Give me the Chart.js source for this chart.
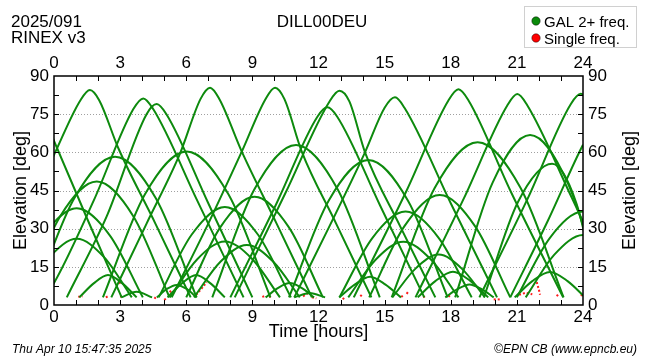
<!DOCTYPE html>
<html lang="en">
<head>
<meta charset="UTF-8">
<title>DILL00DEU elevation</title>
<script src="https://cdn.jsdelivr.net/npm/chart.js"></script>
<style>
  html, body { margin: 0; padding: 0; background: #fff; }
  #wrap { width: 650px; height: 360px; }
</style>
</head>
<body>
<div id="wrap"><canvas id="elevChart" width="650" height="360"></canvas></div>
<script>
  // hour ticks and elevation ticks
  const hourTicks = [0, 3, 6, 9, 12, 15, 18, 21, 24];
  const elevTicks = [0, 15, 30, 45, 60, 75, 90];

  // satellite passes, [hour, elevation] (dual frequency)
  const galPasses = [
    [[-1.3, 85], [-0.85, 81], [0, 64.5], [1.5, 34], [3.07, 3]],
    [[-3.1, 3], [-1.5, 31], [0, 59], [1.2, 80.5], [1.63, 84.5], [2.05, 80.5], [2.92, 61.6], [4.6, 32], [6.2, 3]],
    [[-0.45, 3], [0, 8.6], [1.8, 41], [3.6, 77], [4.05, 81.2], [4.5, 77], [6.5, 41], [8.6, 3]],
    [[0.58, 3], [2.4, 35], [4.2, 75], [4.66, 79], [5.1, 75], [7.0, 40], [9.0, 3]],
    [[2.6, 3], [4.2, 32], [5.72, 59.6], [6.65, 81], [7.08, 85.4], [7.5, 81], [8.52, 60.3], [10.1, 32], [11.7, 3]],
    [[5.34, 3], [7.0, 32], [8.52, 60.3], [9.6, 81], [10.03, 85.4], [10.45, 81], [11.24, 60.3], [12.8, 32], [14.4, 3]],
    [[8.0, 3], [10.1, 40], [11.95, 74], [12.4, 77.7], [12.85, 74], [14.8, 39], [16.8, 3]],
    [[8.2, 3], [10.5, 44], [12.5, 80], [12.95, 84.2], [13.4, 80], [14.11, 60], [15.7, 31], [17.3, 3]],
    [[10.9, 3], [12.5, 31], [14.11, 60], [15.0, 77.5], [15.47, 81.6], [15.9, 77.5], [18.0, 40], [20.1, 3]],
    [[13.6, 3], [16.0, 45], [17.9, 80.5], [18.35, 84.8], [18.8, 80.5], [20.7, 45], [23.1, 3]],
    [[16.4, 3], [18.6, 42], [20.57, 78.5], [21.02, 82.9], [21.47, 78.5], [23.5, 42], [25.6, 3]],
    [[19.3, 3], [21.5, 42], [23.45, 79], [23.9, 83], [24.35, 79], [26, 50]],
    [[20.7, 3], [22.4, 33], [24, 63], [25, 78]],
    // lower passes
    [[-1.36, 3], [0.29, 35], [1.94, 48.5], [3.59, 35], [5.24, 3]],
    [[-1.97, 3], [-0.47, 27.4], [1.03, 38], [2.53, 27.4], [4.03, 3]],
    [[-1.47, 3], [-0.22, 18.7], [1.03, 26], [2.28, 18.7], [3.53, 3]],
    [[1.15, 3], [1.8, 8.5], [2.45, 11.8], [3.1, 8.5], [3.75, 3]],
    [[-0.93, 3], [0.92, 42], [2.77, 58.3], [4.62, 42], [6.47, 3]],
    [[3.05, 3], [3.75, 5.2], [4.45, 3]],
    [[4.67, 3], [5.12, 6.3], [5.57, 7.9], [6.02, 6.3], [6.47, 3]],
    [[5.15, 3], [5.8, 8.5], [6.45, 11.8], [7.1, 8.5], [7.75, 3]],
    [[2.22, 3], [4.12, 43.4], [6.02, 60.3], [7.92, 43.4], [9.82, 3]],
    [[4.75, 3], [6.25, 27.7], [7.75, 38.5], [9.25, 27.7], [10.75, 3]],
    [[5.25, 3], [6.5, 18], [7.75, 25], [9.0, 18], [10.25, 3]],
    [[6.0, 3], [7.55, 30.6], [9.1, 42.5], [10.65, 30.6], [12.2, 3]],
    [[6.35, 3], [7.55, 17], [8.75, 23.6], [9.95, 17], [11.15, 3]],
    [[9.6, 3], [10.15, 6.6], [10.7, 8.6], [11.25, 6.6], [11.8, 3]],
    [[10.9, 3], [11.6, 4.7], [12.3, 3]],
    [[7.18, 3], [9.08, 45.3], [10.98, 62.9], [12.88, 45.3], [14.78, 3]],
    [[10.66, 3], [12.46, 41], [14.26, 57], [16.06, 41], [17.86, 3]],
    [[12.94, 3], [13.64, 8], [14.34, 11.1], [15.04, 8], [15.74, 3]],
    [[12.95, 3], [14.45, 26.4], [15.95, 36.7], [17.45, 26.4], [18.95, 3]],
    [[13.35, 3], [14.6, 17.9], [15.85, 24.9], [17.1, 17.9], [18.35, 3]],
    [[14.3, 3], [15.9, 31], [17.5, 43.2], [19.1, 31], [20.7, 3]],
    [[15.35, 3], [16.4, 14.3], [17.45, 19.8], [18.5, 14.3], [19.55, 3]],
    [[16.5, 3], [17.3, 9.4], [18.1, 13.1], [18.9, 9.4], [19.7, 3]],
    [[17.75, 3], [18.3, 6.2], [18.85, 8.1], [19.4, 6.2], [19.95, 3]],
    [[15.32, 3], [17.27, 46], [19.22, 64], [21.17, 46], [23.12, 3]],
    [[18.2, 3], [19.9, 48.1], [21.6, 66.8], [23.3, 48.1], [25.0, 3]],
    [[19.5, 3], [21.05, 40.5], [22.6, 55.5], [23.7, 40], [24.7, 3]],
    [[20.9, 3], [21.7, 9.4], [22.5, 13], [23.3, 9.4], [24.1, 3]],
    [[21.0, 3], [22.5, 26.4], [24, 36.7], [25.5, 26.4]],
    [[21.4, 3], [22.7, 19.8], [24, 27.5], [25.3, 19.8]]
  ];

  // short single-frequency pieces
  const singlePieces = [
    [[1.1, 3.2], [1.3, 3.4]],
    [[2.35, 3], [2.5, 3.6]],
    [[3.0, 3.2], [3.15, 3.6]],
    [[2.95, 8.5], [3.05, 9.2]],
    [[4.55, 3], [4.65, 2.4]],
    [[5.0, 2], [5.1, 2.6]],
    [[5.25, 5], [5.35, 6]],
    [[6.45, 4], [6.7, 6.5], [6.93, 9]],
    [[9.45, 3.2], [9.6, 3.6]],
    [[9.75, 3.2], [9.85, 3.4]],
    [[11.3, 3.4], [11.5, 4.5]],
    [[11.7, 3], [11.9, 2.6]],
    [[13.1, 2.2], [13.2, 3.2]],
    [[13.9, 3.4], [14.0, 4.4]],
    [[15.75, 3.2], [15.9, 4]],
    [[16.0, 4.4], [16.1, 5.6]],
    [[16.75, 3], [16.85, 3.6]],
    [[17.9, 3.2], [18.0, 4.2]],
    [[19.95, 2.2], [20.25, 2.2]],
    [[21.1, 4], [21.4, 4.8], [21.7, 4.2]],
    [[21.9, 9], [22.0, 6], [22.05, 4]],
    [[22.8, 4], [22.9, 3.4]],
    [[23.9, 3.6], [24, 4.4]]
  ];

  const GREEN = '#0d8a0d';
  const RED = '#ff1a1a';
  const FONT = "'Liberation Sans', Arial, sans-serif";

  function toPoints(p) {
    return p.map(([x, y]) => ({ x: x, y: y }));
  }

  const datasets = [];
  galPasses.forEach(p => {
    datasets.push({
      data: toPoints(p),
      borderColor: GREEN,
      borderWidth: 2,
      pointRadius: 0,
      showLine: true,
      cubicInterpolationMode: 'monotone',
      fill: false
    });
  });
  singlePieces.forEach(p => {
    datasets.push({
      data: toPoints(p),
      borderColor: RED,
      borderWidth: 2,
      borderDash: [2, 2],
      pointRadius: 0,
      showLine: true,
      fill: false
    });
  });

  // frame, dotted grid, inward ticks and the free texts
  const decor = {
    id: 'decor',
    beforeDatasetsDraw(chart) {
      const { ctx, chartArea: a } = chart;
      const ys = chart.scales.y;
      ctx.save();
      ctx.strokeStyle = '#a0a0a0';
      ctx.lineWidth = 1;
      ctx.setLineDash([1, 2]);
      elevTicks.forEach(v => {
        if (v === 0 || v === 90) return;
        const py = Math.round(ys.getPixelForValue(v)) + 0.5;
        ctx.beginPath();
        ctx.moveTo(a.left, py);
        ctx.lineTo(a.right, py);
        ctx.stroke();
      });
      ctx.restore();
    },
    afterDraw(chart) {
      const { ctx, chartArea: a } = chart;
      const xs = chart.scales.x;
      const ys = chart.scales.y;
      ctx.save();
      ctx.strokeStyle = '#000';
      ctx.lineWidth = 1.5;
      ctx.setLineDash([]);
      ctx.strokeRect(a.left, a.top, a.right - a.left, a.bottom - a.top);

      ctx.lineWidth = 1;
      ctx.beginPath();
      for (let h = 1; h < 24; h++) {
        const px = Math.round(xs.getPixelForValue(h)) + 0.5;
        ctx.moveTo(px, a.bottom); ctx.lineTo(px, a.bottom - 5);
        ctx.moveTo(px, a.top); ctx.lineTo(px, a.top + 5);
      }
      for (let e = 7.5; e < 90; e += 7.5) {
        const py = Math.round(ys.getPixelForValue(e)) + 0.5;
        ctx.moveTo(a.left, py); ctx.lineTo(a.left + 5, py);
        ctx.moveTo(a.right, py); ctx.lineTo(a.right - 5, py);
      }
      ctx.stroke();

      ctx.fillStyle = '#000';
      ctx.font = '17px ' + FONT;
      ctx.textBaseline = 'alphabetic';
      ctx.textAlign = 'left';
      ctx.fillText('2025/091', 11, 27);
      ctx.fillText('RINEX v3', 11, 43);
      ctx.textAlign = 'center';
      ctx.fillText('DILL00DEU', 322, 27);

      ctx.font = '18px ' + FONT;
      ctx.fillText('Time [hours]', (a.left + a.right) / 2, 337);
      const midY = (a.top + a.bottom) / 2;
      ctx.save();
      ctx.translate(26, midY);
      ctx.rotate(-Math.PI / 2);
      ctx.fillText('Elevation [deg]', 0, 0);
      ctx.restore();
      ctx.save();
      ctx.translate(635, midY);
      ctx.rotate(-Math.PI / 2);
      ctx.fillText('Elevation [deg]', 0, 0);
      ctx.restore();

      ctx.font = 'italic 12px ' + FONT;
      ctx.textAlign = 'left';
      ctx.fillText('Thu Apr 10 15:47:35 2025', 12, 353);
      ctx.textAlign = 'right';
      ctx.fillText('\u00A9EPN CB (www.epncb.eu)', 637, 353);

      // legend box
      ctx.strokeStyle = '#d0d0d0';
      ctx.lineWidth = 1;
      ctx.strokeRect(524.5, 6.5, 112, 41);
      const items = [['GAL 2+ freq.', '#0a8a0a', 21], ['Single freq.', '#ff0000', 38]];
      ctx.font = '15px ' + FONT;
      ctx.textAlign = 'left';
      items.forEach(([label, col, cy]) => {
        ctx.beginPath();
        ctx.arc(536, cy, 4.2, 0, Math.PI * 2);
        ctx.fillStyle = col;
        ctx.fill();
        ctx.strokeStyle = 'rgba(0,0,0,0.45)';
        ctx.stroke();
        ctx.fillStyle = '#000';
        ctx.fillText(label, 544, cy + 5.5);
      });
      ctx.restore();
    }
  };

  const tickFont = { family: FONT, size: 17 };
  const hourAxis = (pos, h) => ({
    type: 'linear',
    position: pos,
    min: 0,
    max: 24,
    afterFit: s => { s.height = h; },
    afterBuildTicks: s => { s.ticks = hourTicks.map(v => ({ value: v })); },
    grid: { display: false, drawTicks: false },
    border: { display: false },
    ticks: { padding: 2, font: tickFont, color: '#000', maxRotation: 0, autoSkip: false }
  });
  const elevAxis = (pos, w) => ({
    type: 'linear',
    position: pos,
    min: 0,
    max: 90,
    afterFit: s => { s.width = w; },
    afterBuildTicks: s => { s.ticks = elevTicks.map(v => ({ value: v })); },
    grid: { display: false, drawTicks: false },
    border: { display: false },
    ticks: { padding: 5, font: tickFont, color: '#000', autoSkip: false }
  });

  new Chart(document.getElementById('elevChart'), {
    type: 'scatter',
    data: { datasets: datasets },
    options: {
      responsive: false,
      animation: false,
      devicePixelRatio: 1,
      events: [],
      layout: { padding: 0 },
      scales: {
        x: hourAxis('bottom', 55),
        xTop: hourAxis('top', 76),
        y: elevAxis('left', 54),
        yRight: elevAxis('right', 67)
      },
      plugins: { legend: { display: false }, tooltip: { enabled: false } }
    },
    plugins: [decor]
  });
</script>
</body>
</html>
